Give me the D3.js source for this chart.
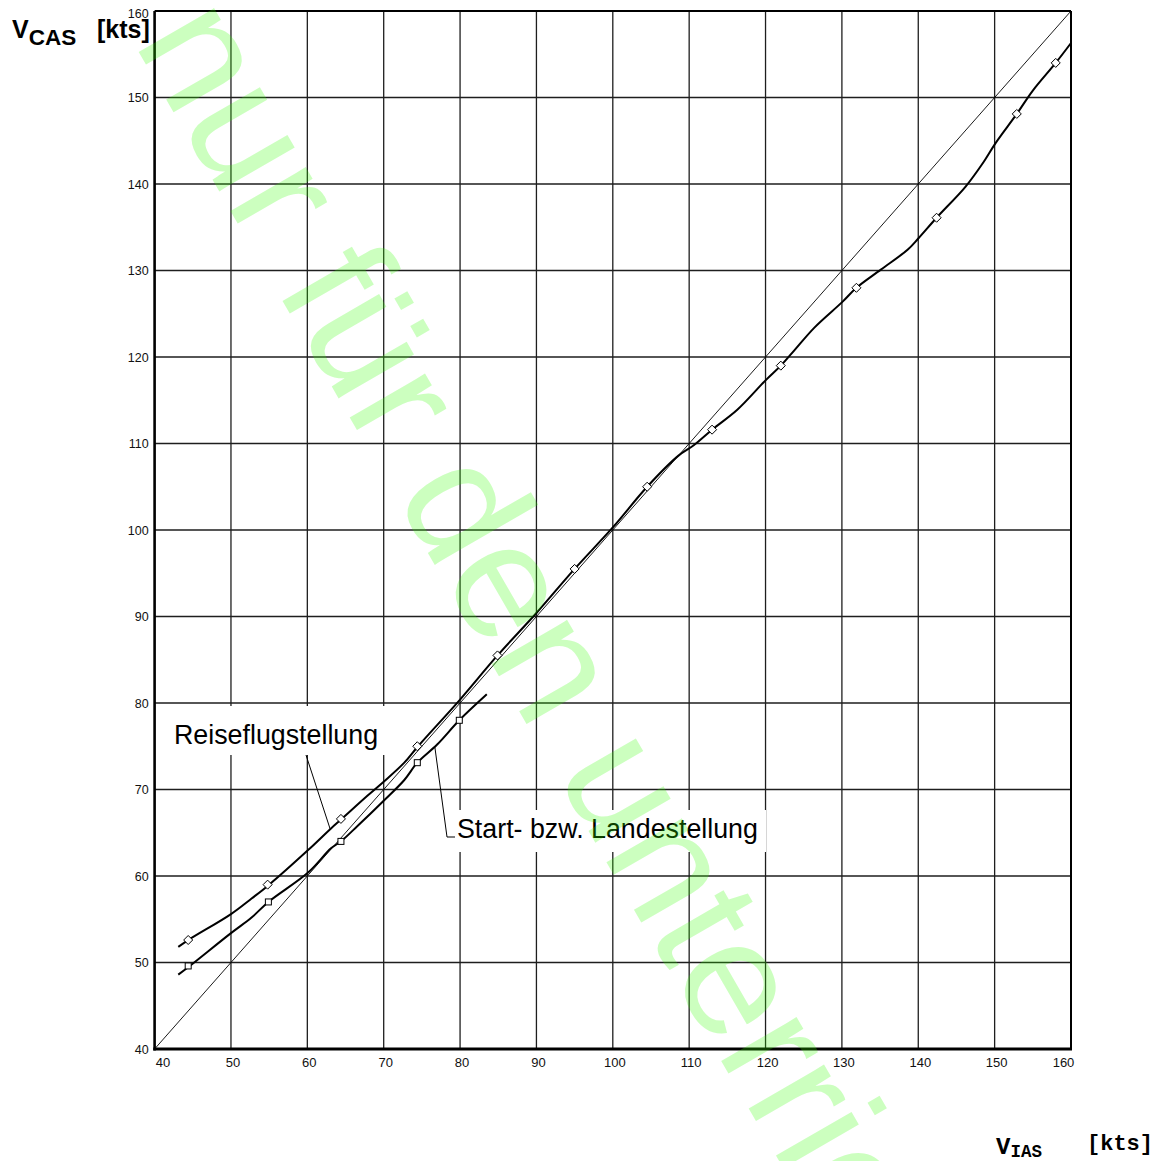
<!DOCTYPE html>
<html>
<head>
<meta charset="utf-8">
<script src="https://cdn.jsdelivr.net/npm/d3@7"></script>
<style>
  html, body { margin: 0; padding: 0; background: #fff; }
  svg { display: block; }
</style>
</head>
<body>
<svg id="chart" width="1173" height="1161"></svg>
<script>
// Airspeed calibration: indicated (IAS) vs. calibrated (CAS) airspeed, knots.
const xTicks = [40, 50, 60, 70, 80, 90, 100, 110, 120, 130, 140, 150, 160];
const yTicks = [40, 50, 60, 70, 80, 90, 100, 110, 120, 130, 140, 150, 160];

// Reference line CAS = IAS
const identityLine = [[40, 40], [160, 160]];

// Cruise configuration (Reiseflugstellung): traced curve [IAS, CAS]
const cruiseCurve = [
  [43.1, 51.8], [44.6, 52.7], [50.0, 55.6], [52.7, 57.4], [55.0, 59.0],
  [60.1, 63.0], [63.1, 65.5], [64.5, 66.6], [67.9, 69.3], [70.0, 70.9],
  [72.7, 73.1], [74.5, 75.0], [80.0, 80.4], [84.9, 85.5], [90.0, 90.4],
  [95.0, 95.5], [100.0, 100.3], [104.5, 105.0], [108.6, 108.6], [110.6, 109.8],
  [113.0, 111.6], [116.3, 113.9], [120.0, 117.3], [122.0, 119.0], [123.8, 120.8],
  [126.4, 123.4], [130.1, 126.4], [131.9, 128.0], [135.1, 130.1], [138.6, 132.4],
  [140.0, 133.7], [142.4, 136.1], [146.2, 139.7], [148.6, 142.6], [150.1, 144.7],
  [152.9, 148.1], [155.0, 150.8], [158.0, 154.0], [160.0, 156.3]
];
// Measured points, cruise configuration
const cruiseMarkers = [
  [44.4, 52.6], [54.8, 59.0], [64.4, 66.6], [74.4, 75.0], [84.9, 85.5],
  [95.0, 95.5], [104.5, 105.0], [113.0, 111.6], [122.0, 119.0], [131.9, 128.0],
  [142.4, 136.1], [152.9, 148.1], [158.0, 154.0]
];

// Take-off / landing configuration (Start- bzw. Landestellung)
const landingCurve = [
  [43.1, 48.6], [44.6, 49.6], [50.0, 53.4], [52.7, 55.2], [54.9, 57.0],
  [60.1, 60.4], [63.1, 63.2], [64.4, 64.0], [66.6, 65.8], [70.0, 68.7],
  [72.7, 71.1], [74.4, 73.1], [77.0, 75.2], [79.9, 78.0], [83.5, 81.0]
];
const landingMarkers = [
  [44.4, 49.6], [54.9, 57.0], [64.4, 64.0], [74.4, 73.1], [79.9, 78.0]
];

const labelCruise = "Reiseflugstellung";
const labelLanding = "Start- bzw. Landestellung";
const watermark = "nur für den unterricht";

const svg = d3.select("#chart");
const plotLeft = 154.6, plotRight = 1071, plotTop = 11, plotBottom = 1049;

const x = d3.scaleLinear().domain([40, 160]).range([plotLeft, plotRight]);
const y = d3.scaleLinear().domain([40, 160]).range([plotBottom, plotTop]);

const sans = "'Liberation Sans', Arial, sans-serif";
const mono = "'Liberation Mono', 'Courier New', monospace";

// grid
const grid = svg.append("g");
grid.selectAll("line.v").data(xTicks.slice(1, -1)).join("line")
  .attr("x1", d => x(d)).attr("x2", d => x(d))
  .attr("y1", plotTop).attr("y2", plotBottom)
  .attr("stroke", "#1e1e1e").attr("stroke-width", 1.3);
grid.selectAll("line.h").data(yTicks.slice(1, -1)).join("line")
  .attr("y1", d => y(d)).attr("y2", d => y(d))
  .attr("x1", plotLeft).attr("x2", plotRight)
  .attr("stroke", "#1e1e1e").attr("stroke-width", 1.3);

// frame
svg.append("line").attr("x1", plotLeft).attr("x2", plotRight).attr("y1", plotTop).attr("y2", plotTop)
  .attr("stroke", "#000").attr("stroke-width", 2);
svg.append("line").attr("x1", plotRight).attr("x2", plotRight).attr("y1", plotTop).attr("y2", plotBottom)
  .attr("stroke", "#000").attr("stroke-width", 2);

// axes with labels only
const xAxis = d3.axisBottom(x).tickValues(xTicks).tickSize(0).tickPadding(0);
const gx = svg.append("g").attr("transform", `translate(0,${plotBottom})`).call(xAxis);
gx.select(".domain").remove();
gx.selectAll("text")
  .attr("font-family", sans).attr("font-size", 13).attr("fill", "#111")
  .attr("y", 18).attr("dy", 0)
  .attr("x", d => d === 40 ? 8 : (d === 160 ? -8 : 1.5));

const yAxis = d3.axisLeft(y).tickValues(yTicks).tickSize(0).tickPadding(0);
const gy = svg.append("g").attr("transform", `translate(${plotLeft},0)`).call(yAxis);
gy.select(".domain").remove();
gy.selectAll("text")
  .attr("font-family", sans).attr("font-size", 12.5).attr("fill", "#111")
  .attr("x", -6)
  .attr("dy", d => d === 160 ? "0.72em" : "0.35em")
  .attr("y", d => d === 160 ? -3 : 0);

svg.append("line").attr("x1", plotLeft).attr("x2", plotLeft).attr("y1", plotTop).attr("y2", plotBottom + 1.5)
  .attr("stroke", "#000").attr("stroke-width", 2.6);
svg.append("line").attr("x1", plotLeft - 1.3).attr("x2", plotRight + 1).attr("y1", plotBottom).attr("y2", plotBottom)
  .attr("stroke", "#000").attr("stroke-width", 3);

// label backgrounds
svg.append("rect").attr("x", 166).attr("y", 706).attr("width", 222).attr("height", 49).attr("fill", "#fff");
svg.append("rect").attr("x", 452).attr("y", 810).attr("width", 314).attr("height", 42).attr("fill", "#fff");

// identity line
const line = d3.line().x(d => x(d[0])).y(d => y(d[1]));
svg.append("path").attr("d", line(identityLine))
  .attr("fill", "none").attr("stroke", "#000").attr("stroke-width", 0.9);

// curves
const smooth = d3.line().x(d => x(d[0])).y(d => y(d[1])).curve(d3.curveCatmullRom.alpha(0.5));
svg.append("path").attr("d", smooth(cruiseCurve))
  .attr("fill", "none").attr("stroke", "#000").attr("stroke-width", 2);
svg.append("path").attr("d", smooth(landingCurve))
  .attr("fill", "none").attr("stroke", "#000").attr("stroke-width", 2);

// markers
const diamond = d3.symbol().type(d3.symbolDiamond2).size(52);
svg.append("g").selectAll("path").data(cruiseMarkers).join("path")
  .attr("d", diamond)
  .attr("transform", d => `translate(${x(d[0])},${y(d[1])})`)
  .attr("fill", "#fff").attr("stroke", "#000").attr("stroke-width", 1);
svg.append("g").selectAll("rect").data(landingMarkers).join("rect")
  .attr("x", d => x(d[0]) - 3).attr("y", d => y(d[1]) - 3)
  .attr("width", 6).attr("height", 6)
  .attr("fill", "#fff").attr("stroke", "#000").attr("stroke-width", 1);

// labels and leaders
svg.append("text").attr("x", 174).attr("y", 744)
  .attr("font-family", sans).attr("font-size", 26.8).attr("fill", "#000")
  .text(labelCruise);
svg.append("path")
  .attr("d", `M306,755 L${x(63.0)},${y(65.4)}`)
  .attr("fill", "none").attr("stroke", "#000").attr("stroke-width", 1);

svg.append("text").attr("x", 457).attr("y", 838)
  .attr("font-family", sans).attr("font-size", 26.8).attr("fill", "#000")
  .text(labelLanding);
svg.append("path")
  .attr("d", `M${x(76.7)},${y(74.9)} L447,837 L455,837`)
  .attr("fill", "none").attr("stroke", "#000").attr("stroke-width", 1);

// axis titles
const yt = svg.append("text").attr("x", 12).attr("y", 38)
  .attr("font-family", sans).attr("font-weight", "bold").attr("fill", "#000");
yt.append("tspan").attr("font-size", 25).text("V");
yt.append("tspan").attr("font-size", 22.5).attr("dy", 7).text("CAS");
svg.append("text").attr("x", 97).attr("y", 38)
  .attr("font-family", sans).attr("font-weight", "bold").attr("font-size", 25).attr("fill", "#000")
  .text("[kts]");

const xt = svg.append("text").attr("x", 996).attr("y", 1154)
  .attr("font-family", mono).attr("font-weight", "bold").attr("fill", "#000");
xt.append("tspan").attr("font-size", 24).text("V");
xt.append("tspan").attr("font-size", 17.5).attr("dy", 3).text("IAS");
svg.append("text").attr("x", 1087).attr("y", 1150)
  .attr("font-family", mono).attr("font-weight", "bold").attr("font-size", 22).attr("fill", "#000")
  .text("[kts]");

// diagonal watermark
svg.append("text")
  .attr("transform", "translate(133,42) rotate(60)")
  .attr("font-family", sans).attr("font-size", 165)
  .attr("fill", "#33ff00").attr("fill-opacity", 0.25)
  .text(watermark);
</script>
</body>
</html>
